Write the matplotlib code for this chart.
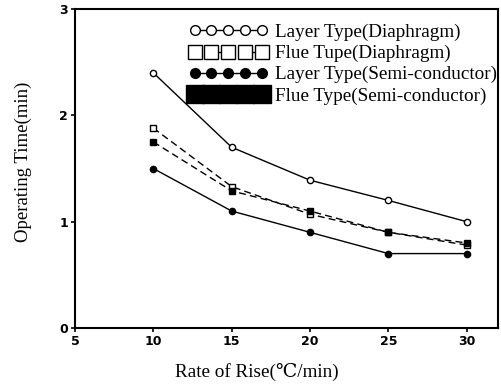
import matplotlib
matplotlib.use("Agg")
import matplotlib.pyplot as plt

rates = [10, 15, 20, 25, 30]
layer_diaphragm = [2.40, 1.70, 1.39, 1.20, 1.00]
flue_diaphragm = [1.88, 1.33, 1.07, 0.90, 0.78]
layer_semi = [1.50, 1.10, 0.90, 0.70, 0.70]
flue_semi = [1.75, 1.29, 1.10, 0.90, 0.80]
labels = ["Layer Type(Diaphragm)", "Flue Tupe(Diaphragm)",
          "Layer Type(Semi-conductor)", "Flue Type(Semi-conductor)"]
xticks = [5, 10, 15, 20, 25, 30]
yticks = [0, 1, 2, 3]

serif = ['Liberation Serif', 'DejaVu Serif']

fig = plt.figure(figsize=(5.01, 3.85), dpi=100)
ax = fig.add_axes([0.1497, 0.148, 0.8443, 0.8286])

ax.plot(rates, layer_diaphragm, color='black', lw=1.0, marker='o', ms=4.5,
        mfc='white', mec='black', mew=1.0, label=labels[0])
ax.plot(rates, flue_diaphragm, color='black', lw=1.0, ls=(0, (5, 3)), marker='s', ms=4.5,
        mfc='white', mec='black', mew=1.0, label=labels[1])
ax.plot(rates, layer_semi, color='black', lw=1.0, marker='o', ms=4.5,
        mfc='black', mec='black', label=labels[2])
ax.plot(rates, flue_semi, color='black', lw=1.0, ls=(0, (5, 3)), marker='s', ms=5,
        mfc='black', mec='black', label=labels[3])

ax.set_xlim(5, 32)
ax.set_ylim(0, 3)
ax.set_xticks(xticks)
ax.set_yticks(yticks)
ax.set_xticklabels([str(v) for v in xticks], fontweight='bold', fontsize=9, family='DejaVu Sans')
ax.set_yticklabels([str(v) for v in yticks], fontweight='bold', fontsize=9, family='DejaVu Sans')
ax.tick_params(direction='out', length=3, width=1.2, pad=2)
for s in ax.spines.values():
    s.set_linewidth(1.5)

ax.set_xlabel("Rate of Rise(℃/min)", family=serif, fontsize=13.8, labelpad=11)
ax.set_ylabel("Operating Time(min)", family=serif, fontsize=13.5, labelpad=20)
ax.xaxis.label.set_x(0.43)
ax.yaxis.label.set_y(0.52)

leg = ax.legend(loc='upper right', bbox_to_anchor=(1.025, 0.99), frameon=False,
                prop={'family': serif, 'size': 13.8}, numpoints=5, handlelength=4.1,
                handletextpad=0.4, labelspacing=0.19, borderaxespad=0.2)
sizes = [7.0, 10.0, 7.0, 12.3]
for h, s in zip(leg.legend_handles, sizes):
    h.set_markersize(s)

fig.savefig("out.png", dpi=100)
